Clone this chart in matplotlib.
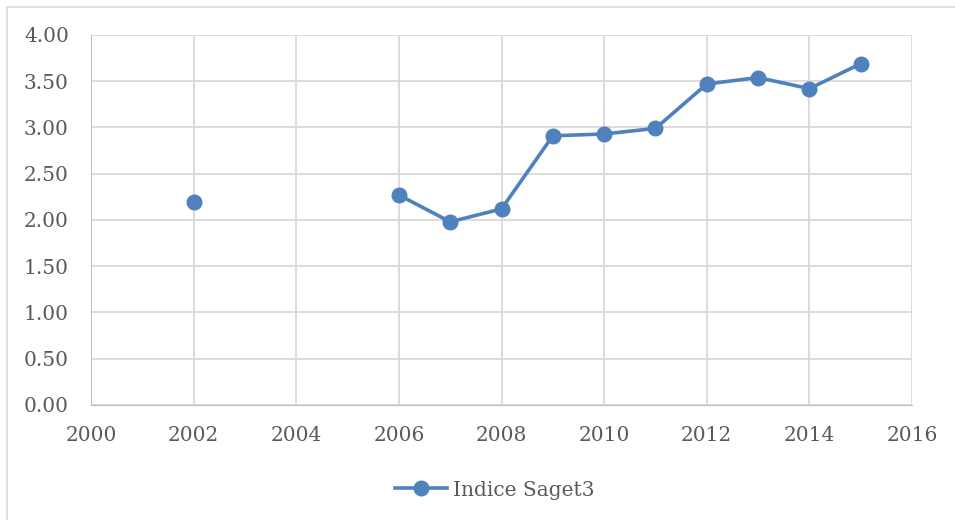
import numpy as np
import matplotlib
matplotlib.use("Agg")
import matplotlib.pyplot as plt
from matplotlib.patches import Rectangle

# data
years = [2002, 2003, 2004, 2005, 2006, 2007, 2008, 2009, 2010, 2011, 2012, 2013, 2014, 2015]
saget3 = [2.19, np.nan, np.nan, np.nan, 2.27, 1.98, 2.12, 2.91, 2.93, 2.99, 3.47, 3.54, 3.42, 3.69]
series_name = "Indice Saget3"

blue = "#4f81bd"
grid = "#d9d9d9"
text = "#595959"

plt.rcParams["font.family"] = ["DejaVu Serif"]

fig = plt.figure(figsize=(9.55, 5.2), dpi=100)
ax = fig.add_axes([0.0953, 0.2212, 0.8597, 0.7115])

# outer chart border
fig.patches.append(Rectangle((7 / 955, -0.01), 1.0, 1 - 7 / 520 + 0.01, transform=fig.transFigure,
                             fill=False, edgecolor="#d9d9d9", linewidth=1.2))

ax.plot(years, saget3, color=blue, linewidth=2.6, marker="o", markersize=10.5, label=series_name)

ax.set_xlim(2000, 2016)
ax.set_ylim(0, 4)
ax.set_xticks(np.arange(2000, 2017, 2))
ax.set_yticks(np.arange(0, 4.01, 0.5))
ax.set_yticklabels([f"{v:.2f}" for v in np.arange(0, 4.01, 0.5)])

ax.grid(True, color=grid, linewidth=1.3)
ax.set_axisbelow(True)
for s in ["top", "right"]:
    ax.spines[s].set_visible(False)
ax.spines["left"].set_color("#bfbfbf")
ax.spines["bottom"].set_color("#bfbfbf")
ax.tick_params(length=0, labelsize=14.5, labelcolor=text)
ax.tick_params(axis="y", pad=16)
ax.tick_params(axis="x", pad=15)

ax.legend(loc="center", bbox_to_anchor=(495 / 955, 1 - 490 / 520), bbox_transform=fig.transFigure,
          frameon=False, fontsize=14.5, labelcolor=text, handlelength=2.6, handletextpad=0.3)

fig.savefig("out.png", dpi=100)
